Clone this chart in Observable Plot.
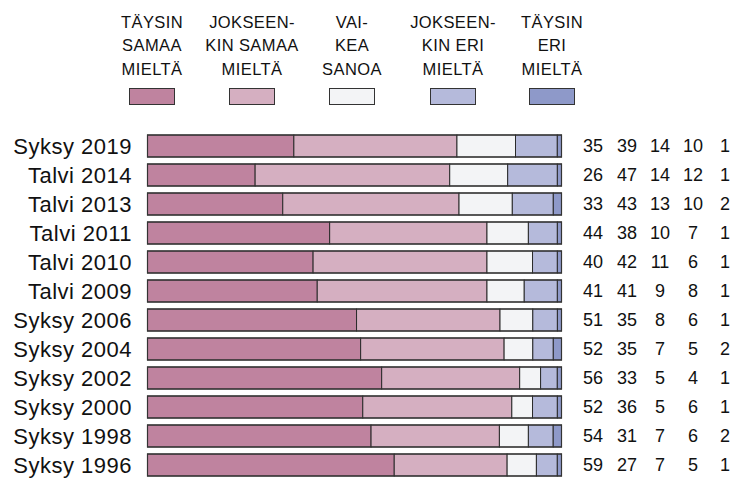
<!DOCTYPE html>
<html>
<head>
<meta charset="utf-8">
<script src="https://cdn.jsdelivr.net/npm/d3@7"></script>
<script src="https://cdn.jsdelivr.net/npm/@observablehq/plot@0.6"></script>
<style>
  html, body { margin: 0; padding: 0; background: #fff; overflow: hidden; }
  #wrap { position: relative; width: 732px; height: 480px; font-family: "Liberation Sans", Arial, sans-serif; }
  #legend { position: absolute; left: 0; top: 0; width: 732px; height: 110px; }
  .lg { position: absolute; top: 10.5px; width: 130px; text-align: center; font-size: 16.5px; letter-spacing: 0.4px; line-height: 23.5px; color: #111; }
  .sw { position: absolute; top: 88px; width: 44px; height: 15px; border: 1px solid #333; }
  #chart { position: absolute; left: 0; top: 0; }
  #chart g[aria-label="y-axis tick label"] text { letter-spacing: 0.5px; }
</style>
</head>
<body>
<div id="wrap">
  <div id="chart"></div>
  <div id="legend"></div>
</div>
<script>
// ---- data ----
const labels = ["Syksy 2019","Talvi 2014","Talvi 2013","Talvi 2011","Talvi 2010","Talvi 2009","Syksy 2006","Syksy 2004","Syksy 2002","Syksy 2000","Syksy 1998","Syksy 1996"];
const categories = ["TÄYSIN SAMAA MIELTÄ","JOKSEENKIN SAMAA MIELTÄ","VAIKEA SANOA","JOKSEENKIN ERI MIELTÄ","TÄYSIN ERI MIELTÄ"];
const legendLines = [
  ["TÄYSIN","SAMAA","MIELTÄ"],
  ["JOKSEEN-","KIN SAMAA","MIELTÄ"],
  ["VAI-","KEA","SANOA"],
  ["JOKSEEN-","KIN ERI","MIELTÄ"],
  ["TÄYSIN","ERI","MIELTÄ"]
];
const taysinSamaa     = [35,26,33,44,40,41,51,52,56,52,54,59];
const jokseenkinSamaa = [39,47,43,38,42,41,35,35,33,36,31,27];
const vaikeaSanoa     = [14,14,13,10,11, 9, 8, 7, 5, 5, 7, 7];
const jokseenkinEri   = [10,12,10, 7, 6, 8, 6, 5, 4, 6, 6, 5];
const taysinEri       = [ 1, 1, 2, 1, 1, 1, 1, 2, 1, 1, 2, 1];
const colors = ["#bf839f","#d5afc1","#f3f4f6","#b5badb","#8e99c9"];

// ---- build table ----
const series = [taysinSamaa, jokseenkinSamaa, vaikeaSanoa, jokseenkinEri, taysinEri];
const table = [];
categories.forEach((c, k) => labels.forEach((l, i) => table.push({label: l, cat: c, k, value: series[k][i]})));

const colDx = [31, 65, 98, 131, 163];

const marks = [
  Plot.barX(table, Plot.stackX({x: "value", y: "label", fill: "cat", offset: "normalize", stroke: "#2a2a2a", strokeWidth: 1, inset: 0})),
  Plot.rect(labels, {x1: () => 0, x2: () => 1, y: d => d, stroke: "#333", strokeWidth: 1.2, fill: "none"}),
  Plot.axisY({tickSize: 0, tickPadding: 16, fontSize: 22, label: null})
];
series.forEach((s, k) => {
  marks.push(Plot.text(labels, {x: () => 1, y: d => d, text: (d, i) => String(s[i]), dx: colDx[k], fontSize: 18, fill: "#111", textAnchor: "middle"}));
});

const chart = Plot.plot({
  width: 732,
  height: 480,
  marginLeft: 147.5, marginRight: 170.5, marginTop: 0, marginBottom: 0,
  style: {fontFamily: "'Liberation Sans', Arial, sans-serif", fontSize: "21px", color: "#111", background: "transparent"},
  x: {domain: [0, 1], axis: null},
  y: {domain: labels, range: [128.2, 482.8], paddingInner: 0.24, paddingOuter: 0.12, label: null},
  color: {domain: categories, range: colors},
  marks
});
document.getElementById("chart").appendChild(chart);

// ---- legend ----
const centers = [152, 252, 352, 453, 552];
const lg = document.getElementById("legend");
categories.forEach((c, k) => {
  const t = document.createElement("div");
  t.className = "lg";
  t.style.left = (centers[k] - 65) + "px";
  t.innerHTML = legendLines[k].join("<br>");
  lg.appendChild(t);
  const s = document.createElement("div");
  s.className = "sw";
  s.style.left = (centers[k] - 23) + "px";
  s.style.background = colors[k];
  lg.appendChild(s);
});
</script>
</body>
</html>
